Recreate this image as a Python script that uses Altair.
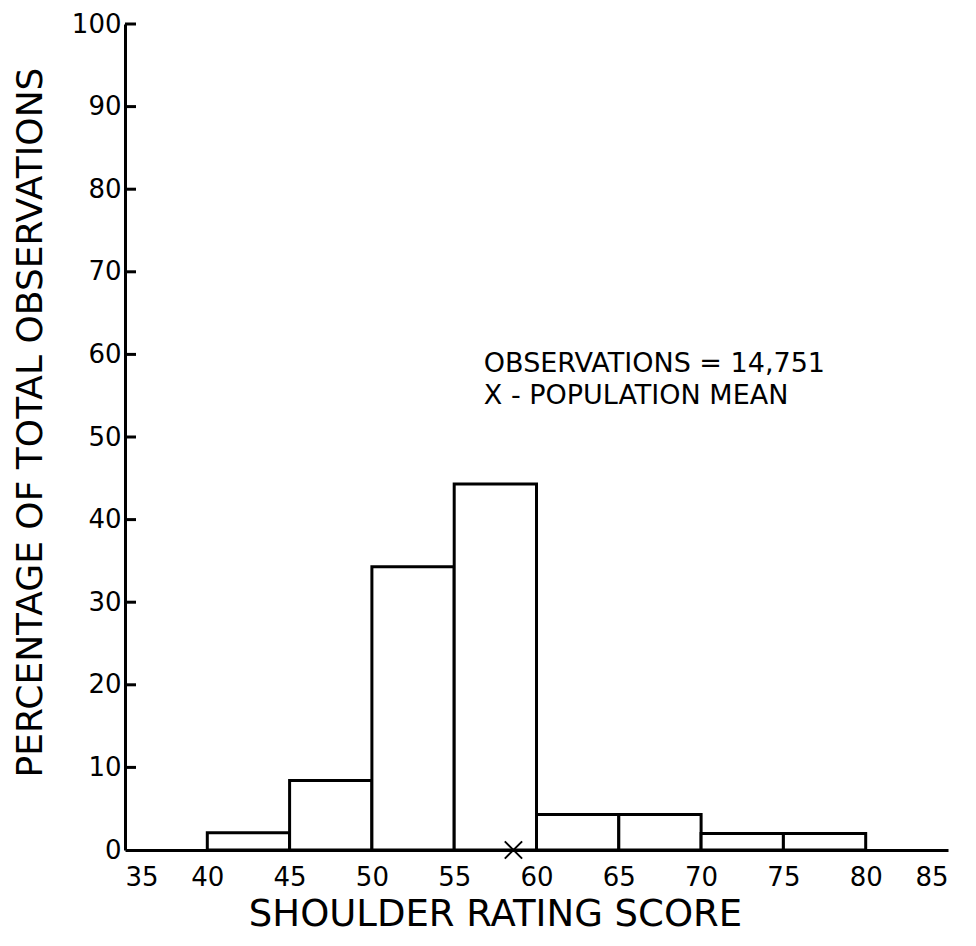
import altair as alt
import pandas as pd

bin_start = [40, 45, 50, 55, 60, 65, 70, 75]
bin_end = [45, 50, 55, 60, 65, 70, 75, 80]
percent = [2.1, 8.4, 34.3, 44.3, 4.3, 4.3, 2.0, 2.0]

y_ticks = [10, 20, 30, 40, 50, 60, 70, 80, 90, 100]
x_ticks = [35, 40, 45, 50, 55, 60, 65, 70, 75, 80, 85]

mean_score = [58.6]
note_lines = ["OBSERVATIONS = 14,751", "X - POPULATION MEAN"]
note_x = [56.8, 56.8]
note_y = [57.9, 54.0]

FONT = "DejaVu Sans"

bars_df = pd.DataFrame({"start": bin_start, "end": bin_end, "pct": percent})
ticks_df = pd.DataFrame({"v": y_ticks})
mean_df = pd.DataFrame({"m": mean_score, "z": [0]})
note_df = pd.DataFrame({"t": note_lines, "x": note_x, "y": note_y})

xscale = alt.Scale(domain=[35, 85], nice=False, zero=False)
yscale = alt.Scale(domain=[0, 100], nice=False)

bars = alt.Chart(bars_df).mark_rect(fill="white", stroke="black", strokeWidth=3).encode(
    x=alt.X("start:Q", scale=xscale,
            axis=alt.Axis(title="SHOULDER RATING SCORE", values=x_ticks, ticks=False,
                          labelFontSize=26, labelFont=FONT, labelColor="black", labelPadding=14,
                          domainColor="black", domainWidth=3, grid=False,
                          titleFont=FONT, titleFontSize=37, titleFontWeight="normal",
                          titleColor="black", titlePadding=6, titleX=370)),
    x2="end:Q",
    y=alt.Y("pct:Q", scale=yscale,
            axis=alt.Axis(title="PERCENTAGE OF TOTAL OBSERVATIONS", values=[0] + y_ticks,
                          ticks=False, labelFontSize=26, labelFont=FONT, labelColor="black",
                          labelPadding=4, domainColor="black", domainWidth=3, grid=False,
                          titleFont=FONT, titleFontSize=36, titleFontWeight="normal",
                          titleColor="black", titlePadding=22, titleY=398)),
    y2=alt.datum(0),
)

tick_marks = alt.Chart(ticks_df).mark_rule(color="black", strokeWidth=3).encode(
    y=alt.Y("v:Q", scale=yscale),
    x=alt.value(0),
    x2=alt.value(11),
)

mean_mark = alt.Chart(mean_df).mark_point(
    shape="M-1,-1L1,1M-1,1L1,-1", size=300, stroke="black", strokeWidth=2, filled=False,
    opacity=1
).encode(x=alt.X("m:Q", scale=xscale), y=alt.Y("z:Q", scale=yscale))

notes = alt.Chart(note_df).mark_text(
    align="left", baseline="alphabetic", font=FONT, fontSize=27, color="black"
).encode(x=alt.X("x:Q", scale=xscale), y=alt.Y("y:Q", scale=yscale), text="t:N")

chart = alt.layer(bars, tick_marks, mean_mark, notes).properties(
    width=823, height=826,
    background="white",
    autosize=alt.AutoSizeParams(type="none"),
    padding={"left": 117, "top": 16, "right": 20, "bottom": 92},
).configure_view(stroke=None)

chart.save("out.html", embed_options={"renderer": "svg", "actions": False})
